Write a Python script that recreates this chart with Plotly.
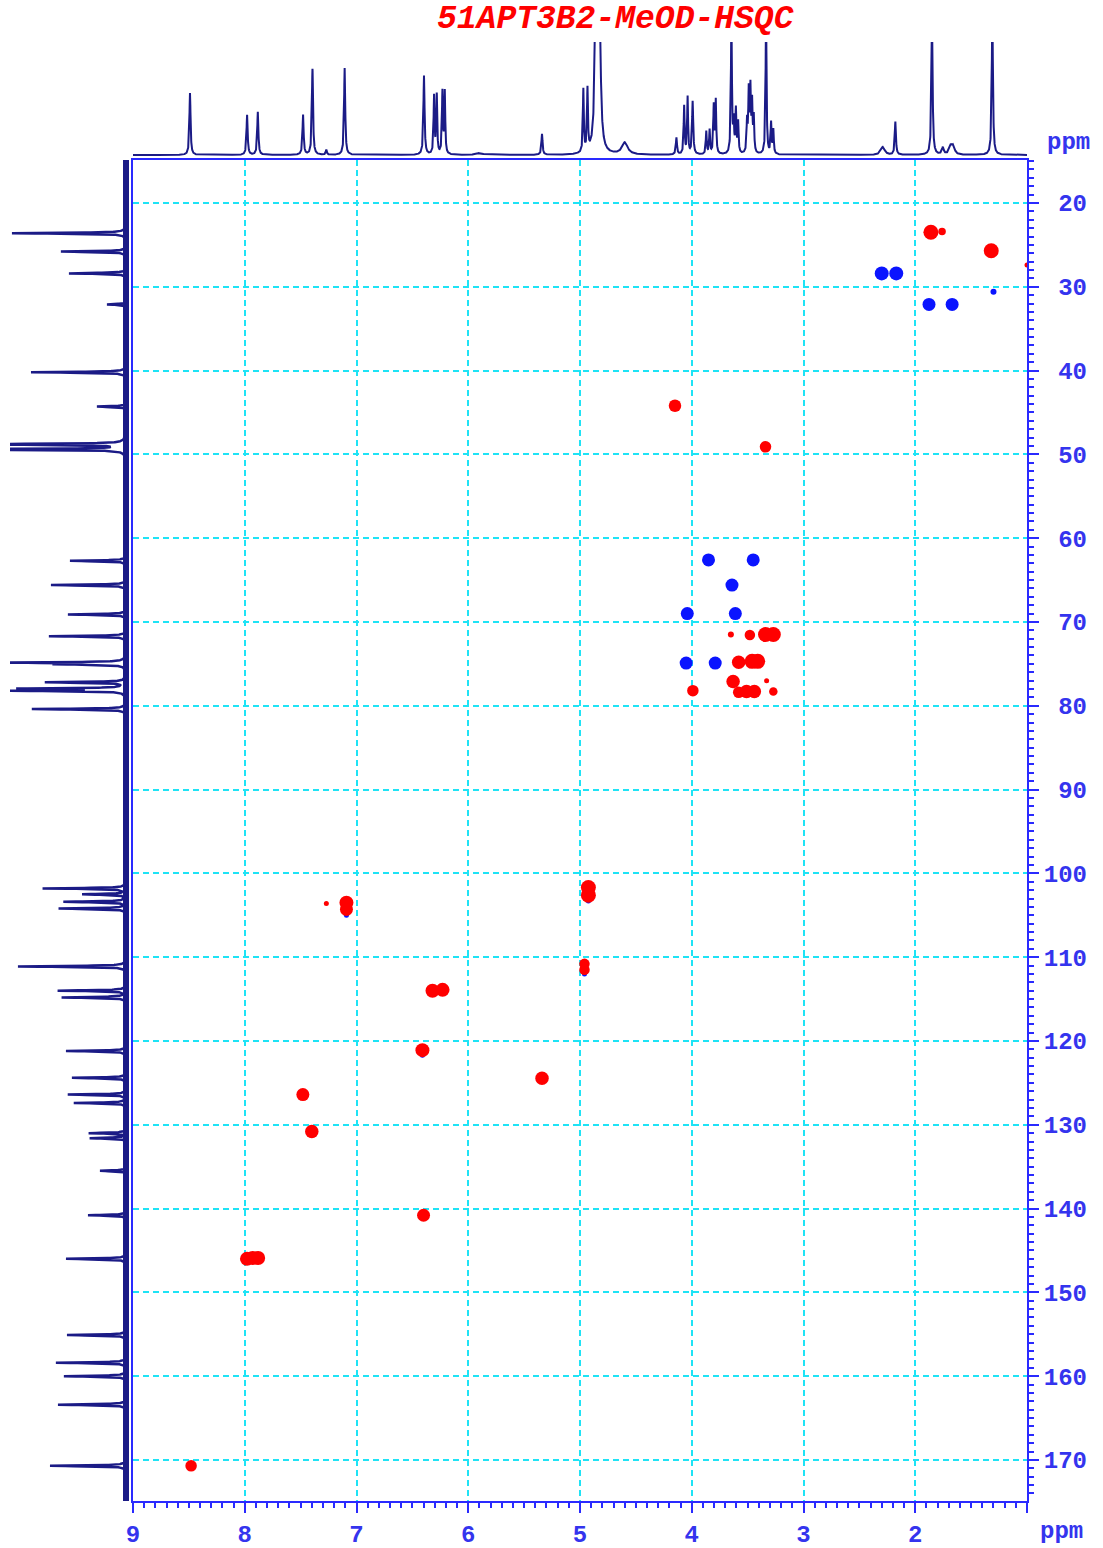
import numpy as np
import plotly.graph_objects as go

W, H = 1103, 1548

# ---------------- data ----------------
# 1H projection (top): chemical shift (ppm), intensity (a.u.), half width (ppm)
h_ppm = [8.49, 7.979, 7.883, 7.478, 7.394, 7.27, 7.106, 6.396, 6.306, 6.282, 6.231, 6.210,
         5.90, 5.340, 4.970, 4.933, 4.857, 4.827, 4.599, 4.137, 4.068, 4.037, 3.992, 3.870,
         3.840, 3.803, 3.785, 3.645, 3.625, 3.605, 3.585, 3.505, 3.490, 3.475, 3.460, 3.445,
         3.335, 3.290, 3.270, 2.29, 2.178, 1.85, 1.753, 1.683, 1.66, 1.31]
h_int = [62, 40, 43, 40, 86, 5, 87, 79, 58, 59, 62, 62,
         2, 21, 63, 62, 160, 160, 12, 17, 48, 57, 53, 23,
         24, 48, 53, 140, 30, 43, 31, 31, 60, 62, 48, 35,
         140, 31, 24, 8, 33, 140, 7, 8, 8, 140]
h_hw = [0.006, 0.006, 0.006, 0.006, 0.006, 0.006, 0.006, 0.006, 0.005, 0.005, 0.005, 0.005,
        0.03, 0.006, 0.005, 0.005, 0.012, 0.012, 0.03, 0.006, 0.005, 0.005, 0.006, 0.005,
        0.005, 0.005, 0.005, 0.005, 0.005, 0.005, 0.005, 0.005, 0.005, 0.005, 0.005, 0.005,
        0.005, 0.005, 0.005, 0.02, 0.006, 0.006, 0.01, 0.015, 0.015, 0.006]

# 13C projection (left): chemical shift (ppm), intensity (a.u.)
c_ppm = [23.6, 25.8, 28.4, 32.1, 40.2, 44.3, 48.8, 49.4, 62.7, 65.6, 69.1, 71.7, 74.85, 75.05,
         77.2, 77.95, 78.2, 80.4, 101.8, 102.5, 103.4, 104.2, 111.1, 114.0, 114.8, 121.2,
         124.4, 126.4, 127.4, 131.0, 131.6, 135.5, 140.8, 146.0, 155.1, 158.4, 160.0, 163.4, 170.7]
c_int = [114, 65, 57, 19, 95, 29, 200, 200, 56, 75, 58, 77, 114, 64,
         80, 103, 114, 94, 83, 43, 62, 67, 108, 68, 64, 60,
         54, 58, 52, 37, 36, 26, 38, 60, 59, 70, 62, 68, 76]

# HSQC cross peaks: positive phase (red) and negative phase (blue)
red_h = [1.86, 1.76, 1.32, 1.0, 4.15, 3.34, 3.65, 3.48, 3.34, 3.27, 3.58, 3.46, 3.41, 3.63, 3.33,
         3.58, 3.51, 3.44, 3.27, 3.99, 7.27, 7.09, 7.09, 4.925, 4.925, 4.96, 4.96, 6.32, 6.23,
         6.41, 5.34, 7.48, 7.40, 6.40, 7.98, 7.93, 7.88, 8.48]
red_c = [23.5, 23.4, 25.7, 27.4, 44.2, 49.1, 71.5, 71.55, 71.5, 71.5, 74.8, 74.7, 74.7, 77.1, 77.0,
         78.4, 78.3, 78.3, 78.3, 78.2, 103.6, 103.5, 104.3, 101.7, 102.6, 110.8, 111.5, 114.0, 113.9,
         121.1, 124.45, 126.4, 130.8, 140.8, 146.0, 145.9, 145.9, 170.7]
red_rel = [1.0, 0.25, 1.0, 0.0, 0.75, 0.65, 0.1, 0.55, 1.0, 1.0, 0.85, 1.0, 1.0, 0.85, 0.0,
           0.65, 0.85, 0.85, 0.35, 0.65, 0.0, 0.9, 0.8, 1.0, 1.0, 0.55, 0.55, 0.9, 0.9,
           0.9, 0.85, 0.8, 0.85, 0.8, 0.9, 0.9, 0.9, 0.65]

blue_h = [2.30, 2.17, 1.877, 1.67, 1.30, 3.85, 3.45, 3.64, 4.04, 3.61, 4.05, 3.79,
          7.09, 4.96, 6.41, 4.925]
blue_c = [28.4, 28.4, 32.1, 32.1, 30.6, 62.6, 62.6, 65.6, 69.0, 69.0, 74.9, 74.9,
          105.0, 112.0, 121.7, 103.3]
blue_rel = [0.9, 0.9, 0.8, 0.8, 0.1, 0.8, 0.8, 0.8, 0.8, 0.8, 0.8, 0.8,
            0.0, 0.0, 0.0, 0.0]

x_ticks = [9, 8, 7, 6, 5, 4, 3, 2, 1]
x_labels = ["9", "8", "7", "6", "5", "4", "3", "2", ""]
y_ticks = [20, 30, 40, 50, 60, 70, 80, 90, 100, 110, 120, 130, 140, 150, 160, 170]

title_text = "51APT3B2-MeOD-HSQC"

# ---------------- styles ----------------
NAVY = "#1b1b86"
AX = "#2a2aff"
LBL = "#3434ee"
CYAN = "#1fe3f5"
RED = "#ff0000"
BLUE = "#0a14ff"
FONT = "Liberation Mono"


def lorentz_sum(axis, pos, amp, hw):
    out = np.zeros_like(axis)
    for p, a, w in zip(pos, amp, hw):
        out += a * w * w / ((axis - p) ** 2 + w * w)
    return out


h_axis = np.arange(1.0, 9.0005, 0.001)
h_spec = lorentz_sum(h_axis, h_ppm, h_int, h_hw)

c_axis = np.arange(14.8, 175.0, 0.01)
c_spec = lorentz_sum(c_axis, c_ppm, c_int, [0.06] * len(c_ppm))


def msize(rel):
    return [5 + 10 * r for r in rel]


fig = go.Figure()

# cross peaks
fig.add_trace(go.Scatter(x=blue_h, y=blue_c, mode="markers",
                         marker=dict(color=BLUE, size=msize(blue_rel), opacity=1,
                                     line=dict(width=0)),
                         xaxis="x", yaxis="y", hoverinfo="skip"))
fig.add_trace(go.Scatter(x=red_h, y=red_c, mode="markers",
                         marker=dict(color=RED, size=msize(red_rel), opacity=1,
                                     line=dict(width=0)),
                         xaxis="x", yaxis="y", hoverinfo="skip"))

# 1H projection
fig.add_trace(go.Scatter(x=h_axis, y=h_spec, mode="lines",
                         line=dict(color=NAVY, width=2), xaxis="x2", yaxis="y2",
                         hoverinfo="skip"))

# 13C projection
fig.add_trace(go.Scatter(x=[0, 0], y=[c_axis[0], c_axis[-1]], mode="lines",
                         line=dict(color=NAVY, width=6), xaxis="x3", yaxis="y3",
                         hoverinfo="skip"))
fig.add_trace(go.Scatter(x=c_spec, y=c_axis, mode="lines",
                         line=dict(color=NAVY, width=2.5), xaxis="x3", yaxis="y3",
                         hoverinfo="skip"))

x_dom = [133 / W, 1027 / W]
y_dom = [1 - 1501 / H, 1 - 160 / H]
y_rng = [174.9, 14.87]

tickfont = dict(family=FONT, size=24, color=LBL, weight="bold")

fig.update_layout(
    template="none",
    width=W, height=H,
    margin=dict(l=0, r=0, t=0, b=0, pad=0),
    showlegend=False,
    paper_bgcolor="white",
    plot_bgcolor="white",
    xaxis=dict(domain=x_dom, range=[9, 1], anchor="y", side="bottom", automargin=False,
               showline=True, linecolor=AX, linewidth=2, mirror=True,
               ticks="outside", ticklen=10, tickwidth=2, tickcolor=AX,
               tickmode="array", tickvals=x_ticks, ticktext=x_labels,
               tickfont=tickfont,
               showgrid=True, gridcolor=CYAN, gridwidth=2, griddash="6px,4px",
               zeroline=False,
               minor=dict(ticks="outside", ticklen=5, tickwidth=1.5, tickcolor=AX,
                          tickmode="linear", tick0=0, dtick=0.1, showgrid=False)),
    yaxis=dict(domain=y_dom, range=y_rng, anchor="x", side="right", automargin=False,
               showline=True, linecolor=AX, linewidth=2, mirror=True,
               ticks="outside", ticklen=10, tickwidth=2, tickcolor=AX,
               tickmode="array", tickvals=y_ticks,
               ticktext=[str(v).rjust(3, "\u00a0") for v in y_ticks],
               tickfont=tickfont,
               showgrid=True, gridcolor=CYAN, gridwidth=2, griddash="6px,4px",
               zeroline=False,
               minor=dict(ticks="outside", ticklen=5, tickwidth=1.5, tickcolor=AX,
                          tickmode="linear", tick0=0, dtick=1, showgrid=False)),
    xaxis2=dict(domain=x_dom, range=[9, 1], anchor="y2", visible=False, automargin=False),
    yaxis2=dict(domain=[1 - 160 / H, 1 - 42 / H], range=[-5, 113], anchor="x2",
                visible=False, automargin=False),
    xaxis3=dict(domain=[10 / W, 130 / W], range=[116, -4], anchor="y3", visible=False,
                automargin=False),
    yaxis3=dict(domain=y_dom, range=y_rng, anchor="x3", visible=False, automargin=False),
    annotations=[
        dict(text=title_text, x=615 / W, y=1 - 20 / H, xref="paper", yref="paper",
             xanchor="center", yanchor="middle", showarrow=False,
             font=dict(family=FONT, size=33, color=RED, weight="bold", style="italic")),
        dict(text="ppm", x=1068 / W, y=1 - 142 / H, xref="paper", yref="paper",
             xanchor="center", yanchor="middle", showarrow=False, font=tickfont),
        dict(text="ppm", x=1061 / W, y=1 - 1531 / H, xref="paper", yref="paper",
             xanchor="center", yanchor="middle", showarrow=False, font=tickfont),
    ],
)

fig.write_html("out.html")
